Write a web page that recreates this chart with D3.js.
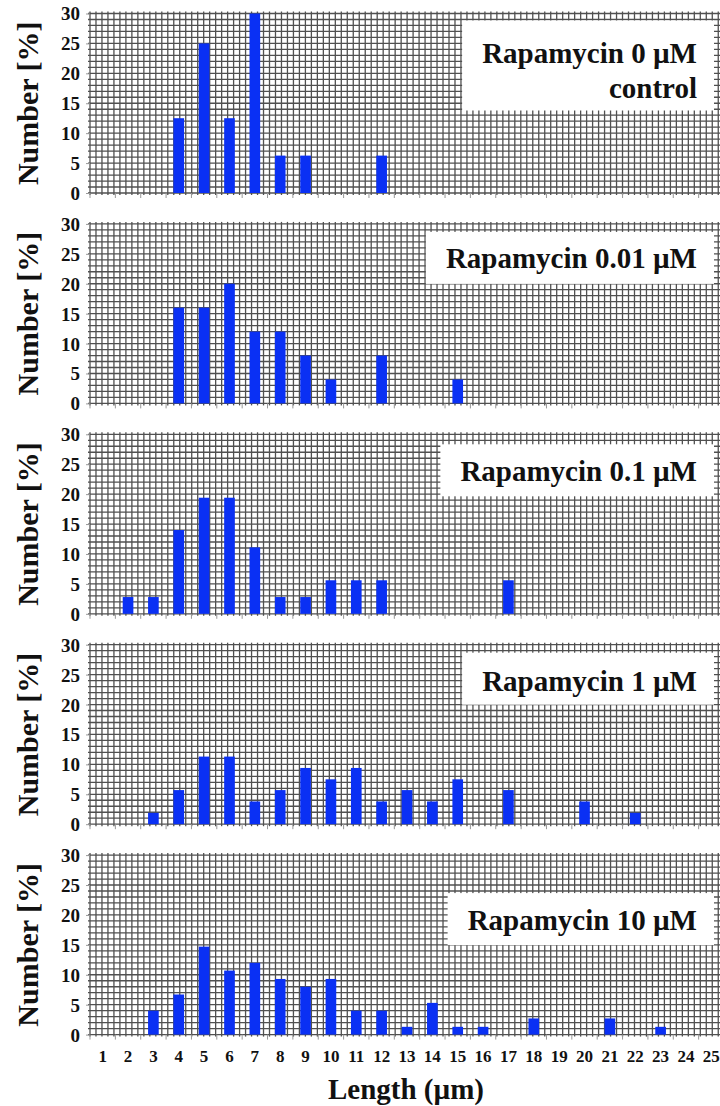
<!DOCTYPE html>
<html>
<head>
<meta charset="utf-8">
<script src="https://cdn.jsdelivr.net/npm/d3@7"></script>
<style>
  body { margin: 0; background: #fff; }
  text { font-family: "Liberation Serif", "Times New Roman", serif; font-weight: bold; fill: #111; }
</style>
</head>
<body>
<svg id="chart" width="720" height="1106"></svg>
<script>
// length classes (µm)
const lengths = [1,2,3,4,5,6,7,8,9,10,11,12,13,14,15,16,17,18,19,20,21,22,23,24,25];
const yTicks = [0, 5, 10, 15, 20, 25, 30];

// percent of cells per length class
const control  = [0,0,0,12.5,25,12.5,30,6.25,6.25,0,0,6.25,0,0,0,0,0,0,0,0,0,0,0,0,0];
const rapa001  = [0,0,0,16,16,20,12,12,8,4,0,8,0,0,4,0,0,0,0,0,0,0,0,0,0];
const rapa01   = [0,2.8,2.8,14,19.4,19.4,11.1,2.8,2.8,5.6,5.6,5.6,0,0,0,0,5.6,0,0,0,0,0,0,0,0];
const rapa1    = [0,0,1.9,5.7,11.3,11.3,3.8,5.7,9.4,7.5,9.4,3.8,5.7,3.8,7.5,0,5.7,0,0,3.8,0,1.9,0,0,0];
const rapa10   = [0,0,4,6.7,14.7,10.7,12,9.3,8,9.3,4,4,1.3,5.3,1.3,1.3,0,2.7,0,0,2.7,0,1.3,0,0];

const panelLabels = [
  ["Rapamycin 0 \u00b5M", "control"],
  ["Rapamycin 0.01 \u00b5M"],
  ["Rapamycin 0.1 \u00b5M"],
  ["Rapamycin 1 \u00b5M"],
  ["Rapamycin 10 \u00b5M"]
];
const series = [control, rapa001, rapa01, rapa1, rapa10];

// layout
const left = 90, right = 724;
const firstTop = 13.5, pitch = 210.4, plotH = 179.5;
const legendTop = [7, 8, 10, 8, 38];   // box offset from panel top
const legendBaseline = [49, 44, 47, 46, 75];
const barColor = "#0a30f4";
const gridColor = "#505050";

const svg = d3.select("#chart");

const x = d3.scaleBand()
  .domain(lengths)
  .range([left, right])
  .paddingInner(0.58)
  .paddingOuter(0.29);

const y = d3.scaleLinear().domain([0, 30]).range([plotH, 0]);
const unit = y(0) - y(1);

series.forEach((vals, i) => {
  const top = firstTop + i * pitch;
  const g = svg.append("g").attr("transform", `translate(0,${top})`);

  // dense square grid
  const grid = g.append("g").attr("stroke", gridColor).attr("stroke-width", 1.3);
  grid.selectAll("line.h")
    .data(d3.range(0, 31))
    .join("line")
      .attr("x1", left - 2).attr("x2", right)
      .attr("y1", d => y(d)).attr("y2", d => y(d));
  grid.selectAll("line.v")
    .data(d3.range(left, right, unit))
    .join("line")
      .attr("x1", d => d).attr("x2", d => d)
      .attr("y1", y(30) - 2).attr("y2", y(0) + 2);

  // tick marks at class boundaries
  g.append("g")
    .attr("stroke", "#999")
    .selectAll("line")
    .data(d3.range(0, lengths.length + 1))
    .join("line")
      .attr("x1", d => x.range()[0] + d * x.step())
      .attr("x2", d => x.range()[0] + d * x.step())
      .attr("y1", y(0)).attr("y2", y(0) + 5);

  // y axis
  const ya = g.append("g")
    .attr("transform", `translate(${left},0)`)
    .call(d3.axisLeft(y).tickValues(yTicks).tickSize(4).tickPadding(6));
  ya.select(".domain").remove();
  ya.selectAll(".tick line").attr("stroke", "#999");
  ya.selectAll(".tick text")
    .attr("font-size", 19)
    .attr("font-family", null)
    .attr("dy", "0.34em");

  // bars
  g.selectAll("rect.bar")
    .data(lengths.map((l, j) => ({ l, v: vals[j] })).filter(d => d.v > 0))
    .join("rect")
      .attr("class", "bar")
      .attr("x", d => x(d.l))
      .attr("width", x.bandwidth())
      .attr("y", d => y(d.v))
      .attr("height", d => y(0) - y(d.v))
      .attr("fill", barColor);

  // y title
  g.append("text")
    .attr("transform", `translate(38,${plotH / 2}) rotate(-90)`)
    .attr("text-anchor", "middle")
    .attr("font-size", 30)
    .text("Number [%]");

  // legend box
  const lg = g.append("g");
  const box = lg.append("rect").attr("fill", "#fff");
  const lines = panelLabels[i];
  const txt = lg.selectAll("text")
    .data(lines)
    .join("text")
      .attr("x", 697)
      .attr("y", (d, k) => legendBaseline[i] + k * 35)
      .attr("text-anchor", "end")
      .attr("font-size", 29)
      .text(d => d);
  const w = d3.max(txt.nodes(), n => n.getComputedTextLength());
  const bh = lines.length > 1 ? 90 : 52;
  box.attr("x", 697 - w - 20).attr("y", legendTop[i])
     .attr("width", w + 37).attr("height", bh);

  // x labels on the bottom panel only
  if (i === series.length - 1) {
    const xa = g.append("g")
      .attr("transform", `translate(0,${y(0)})`)
      .call(d3.axisBottom(x).tickSize(0).tickPadding(15));
    xa.select(".domain").remove();
    xa.selectAll(".tick text")
      .attr("font-size", 17)
      .attr("font-family", null);
    g.append("text")
      .attr("x", 406)
      .attr("y", y(0) + 64)
      .attr("text-anchor", "middle")
      .attr("font-size", 29)
      .text("Length (\u00b5m)");
  }
});
</script>
</body>
</html>
